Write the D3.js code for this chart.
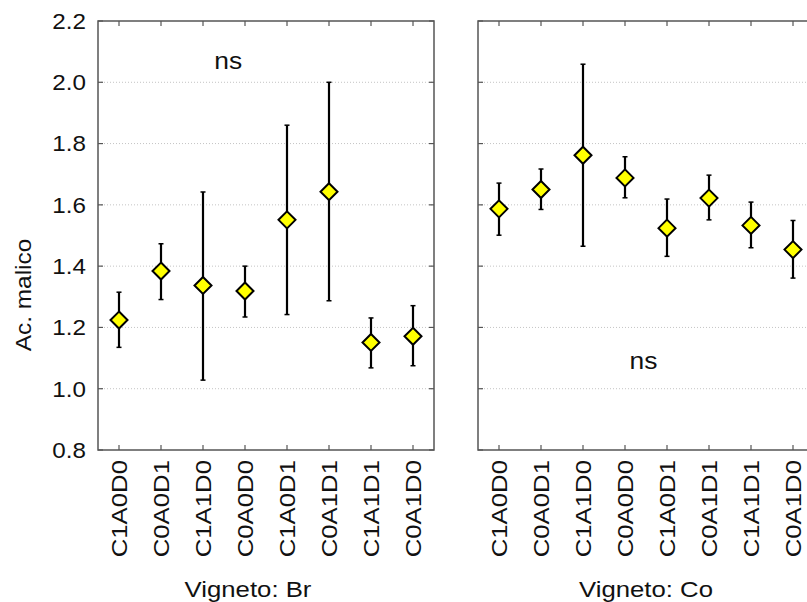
<!DOCTYPE html>
<html>
<head>
<meta charset="utf-8">
<script src="https://cdn.jsdelivr.net/npm/d3@7"></script>
<style>
  body { margin: 0; background: #fff; }
  text { font-family: "Liberation Sans", Arial, sans-serif; fill: #111; }
</style>
</head>
<body>
<div id="chart"></div>
<script>
var categories = ["C1A0D0", "C0A0D1", "C1A1D0", "C0A0D0", "C1A0D1", "C0A1D1", "C1A1D1", "C0A1D0"];

// Vigneto: Br
var brMean  = [1.224, 1.384, 1.337, 1.319, 1.551, 1.643, 1.151, 1.171];
var brUpper = [1.315, 1.473, 1.642, 1.400, 1.860, 2.000, 1.231, 1.271];
var brLower = [1.135, 1.291, 1.028, 1.234, 1.242, 1.287, 1.068, 1.075];

// Vigneto: Co
var coMean  = [1.587, 1.650, 1.762, 1.688, 1.524, 1.622, 1.533, 1.454];
var coUpper = [1.671, 1.717, 2.059, 1.757, 1.619, 1.697, 1.609, 1.549];
var coLower = [1.501, 1.585, 1.465, 1.623, 1.432, 1.551, 1.460, 1.361];

var yTicks = [0.8, 1.0, 1.2, 1.4, 1.6, 1.8, 2.0, 2.2];
var gridTicks = [1.0, 1.2, 1.4, 1.6, 1.8, 2.0];

var panels = [
  {title: "Vigneto: Br", titleX: 150, mean: brMean, upper: brUpper, lower: brLower, note: "ns", notePos: 2.6, noteVal: 2.07},
  {title: "Vigneto: Co", titleX: 168, mean: coMean, upper: coUpper, lower: coLower, note: "ns", notePos: 3.44, noteVal: 1.093}
];

var width = 807, height = 602,
    panelW = 336,
    panelX = [98, 478],
    plotTop = 21, plotBottom = 450;

var svg = d3.select("#chart").append("svg")
    .attr("width", width)
    .attr("height", height);

var y = d3.scaleLinear()
    .domain([0.8, 2.2])
    .range([plotBottom, plotTop]);

var x = d3.scalePoint()
    .domain(categories)
    .range([0, panelW])
    .padding(0.5);

// y axis labels
svg.append("g").selectAll("text")
    .data(yTicks)
  .enter().append("text")
    .attr("transform", function(d) { return "translate(86," + y(d) + ") scale(1.1,1)"; })
    .attr("text-anchor", "end")
    .attr("dy", "0.36em")
    .style("font-size", "22px")
    .text(function(d) { return d.toFixed(1); });

svg.append("text")
    .attr("transform", "translate(23,295) rotate(-90) scale(1.11,1)")
    .attr("text-anchor", "middle")
    .attr("dy", "0.36em")
    .style("font-size", "22px")
    .text("Ac. malico");

panels.forEach(function(p, k) {
  var g = svg.append("g")
      .attr("transform", "translate(" + panelX[k] + ",0)");

  // grid
  g.append("g").selectAll("line")
      .data(gridTicks)
    .enter().append("line")
      .attr("x1", 0).attr("x2", panelW)
      .attr("y1", function(d) { return y(d); })
      .attr("y2", function(d) { return y(d); })
      .attr("stroke", "#c4c4c4")
      .attr("stroke-width", 1)
      .attr("stroke-dasharray", "1,2");

  // inward ticks
  var tk = g.append("g").attr("stroke", "#555").attr("stroke-width", 1.2);
  tk.selectAll(".tl").data(yTicks).enter().append("line")
      .attr("x1", 0).attr("x2", 5)
      .attr("y1", function(d) { return y(d); }).attr("y2", function(d) { return y(d); });
  tk.selectAll(".tr").data(yTicks).enter().append("line")
      .attr("x1", panelW - 5).attr("x2", panelW)
      .attr("y1", function(d) { return y(d); }).attr("y2", function(d) { return y(d); });
  tk.selectAll(".tt").data(categories).enter().append("line")
      .attr("x1", function(d) { return x(d); }).attr("x2", function(d) { return x(d); })
      .attr("y1", plotTop).attr("y2", plotTop + 5);
  tk.selectAll(".tb").data(categories).enter().append("line")
      .attr("x1", function(d) { return x(d); }).attr("x2", function(d) { return x(d); })
      .attr("y1", plotBottom).attr("y2", plotBottom - 5);

  // frame
  g.append("rect")
      .attr("x", 0).attr("y", plotTop)
      .attr("width", panelW).attr("height", plotBottom - plotTop)
      .attr("fill", "none")
      .attr("stroke", "#555")
      .attr("stroke-width", 1.5);

  var rows = categories.map(function(c, i) {
    return {cat: c, mean: p.mean[i], upper: p.upper[i], lower: p.lower[i]};
  });

  // error bars
  var eb = g.append("g").attr("stroke", "#000");
  eb.selectAll(".v").data(rows).enter().append("line")
      .attr("x1", function(d) { return x(d.cat); }).attr("x2", function(d) { return x(d.cat); })
      .attr("y1", function(d) { return y(d.upper); }).attr("y2", function(d) { return y(d.lower); })
      .attr("stroke-width", 2.2);
  eb.selectAll(".cu").data(rows).enter().append("line")
      .attr("x1", function(d) { return x(d.cat) - 2.5; }).attr("x2", function(d) { return x(d.cat) + 2.5; })
      .attr("y1", function(d) { return y(d.upper); }).attr("y2", function(d) { return y(d.upper); })
      .attr("stroke-width", 1.5);
  eb.selectAll(".cl").data(rows).enter().append("line")
      .attr("x1", function(d) { return x(d.cat) - 2.5; }).attr("x2", function(d) { return x(d.cat) + 2.5; })
      .attr("y1", function(d) { return y(d.lower); }).attr("y2", function(d) { return y(d.lower); })
      .attr("stroke-width", 1.5);

  // diamonds
  g.append("g").selectAll("path")
      .data(rows)
    .enter().append("path")
      .attr("transform", function(d) { return "translate(" + x(d.cat) + "," + y(d.mean) + ")"; })
      .attr("d", "M0,-8.5L8.5,0L0,8.5L-8.5,0Z")
      .attr("fill", "#ffff00")
      .attr("stroke", "#000")
      .attr("stroke-width", 2);

  // note
  g.append("text")
      .attr("transform", "translate(" + (x(categories[0]) + p.notePos * x.step()) + "," + y(p.noteVal) + ") scale(1.1,1)")
      .attr("dy", "0.36em")
      .attr("text-anchor", "middle")
      .style("font-size", "24px")
      .text(p.note);

  // category labels
  g.append("g").selectAll("text")
      .data(categories)
    .enter().append("text")
      .attr("transform", function(d) { return "translate(" + x(d) + ",460) rotate(-90) scale(1.12,1)"; })
      .attr("text-anchor", "end")
      .attr("dy", "0.36em")
      .style("font-size", "23px")
      .text(function(d) { return d; });

  g.append("text")
      .attr("transform", "translate(" + p.titleX + ",597) scale(1.17,1)")
      .attr("text-anchor", "middle")
      .style("font-size", "22px")
      .text(p.title);
});
</script>
</body>
</html>
